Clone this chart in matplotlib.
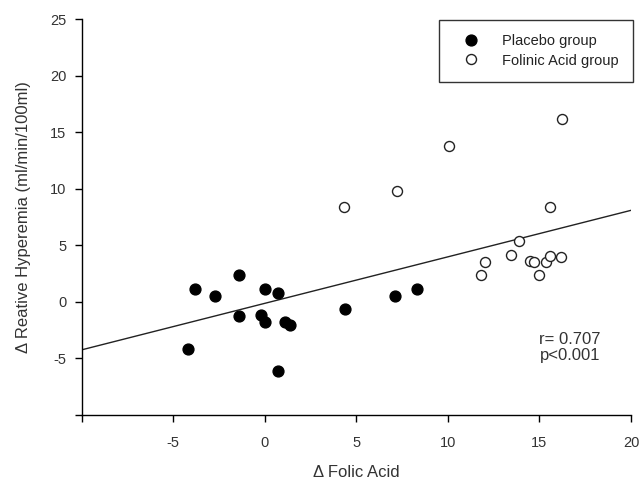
import numpy as np
import matplotlib
matplotlib.use("Agg")
import matplotlib.pyplot as plt

plt.rcParams['font.family'] = ['Liberation Sans', 'DejaVu Sans']

# Placebo group (filled)
placebo_x = [-4.2, -3.8, -2.7, -1.4, -1.4, -0.2, 0.0, 0.0, 0.7, 0.7, 1.1, 1.4, 4.4, 7.1, 8.3]
placebo_y = [-4.2, 1.15, 0.56, 2.4, -1.24, -1.2, 1.15, -1.8, 0.8, -6.07, -1.8, -2.04, -0.62, 0.56, 1.15]

# Folinic acid group (open)
folinic_x = [4.33, 7.23, 10.05, 16.23, 15.56, 13.87, 13.47, 12.05, 11.83, 14.47, 14.69, 15.34, 15.56, 16.16, 14.96]
folinic_y = [8.37, 9.78, 13.82, 16.18, 8.37, 5.42, 4.18, 3.56, 2.39, 3.65, 3.5, 3.56, 4.03, 3.94, 2.39]

# regression line
slope = 0.411
intercept = -0.13
line_x = [-10, 20]

x_ticks = [-10, -5, 0, 5, 10, 15, 20]
x_labels = ['', '-5', '0', '5', '10', '15', '20']
y_ticks = [-10, -5, 0, 5, 10, 15, 20, 25]
y_labels = ['', '-5', '0', '5', '10', '15', '20', '25']

fig = plt.figure(figsize=(6.39, 4.84), dpi=100)
ax = fig.add_axes([0.128, 0.1426, 0.8595, 0.8181])

ax.plot(line_x, [slope * v + intercept for v in line_x], color='#222222', lw=1.0, zorder=1)
ax.plot(placebo_x, placebo_y, 'o', color='black', markersize=7.8, zorder=3,
        label='Placebo group')
ax.plot(folinic_x, folinic_y, 'o', markerfacecolor='white', markeredgecolor='#222222',
        markeredgewidth=1.0, markersize=7.2, zorder=3, label='Folinic Acid group')

ax.set_xlim(-10, 20)
ax.set_ylim(-10, 25)
ax.set_xticks(x_ticks)
ax.set_xticklabels(x_labels)
ax.set_yticks(y_ticks)
ax.set_yticklabels(y_labels)
ax.tick_params(direction='out', length=5, width=1, labelsize=10.5, labelcolor='#333333')
ax.tick_params(axis='x', pad=10)
ax.tick_params(axis='y', pad=6)

ax.spines['top'].set_visible(False)
ax.spines['right'].set_visible(False)
ax.spines['left'].set_linewidth(1.0)
ax.spines['bottom'].set_linewidth(1.0)

ax.set_xlabel('Δ Folic Acid', fontsize=12, color='#333333', labelpad=11)
ax.set_ylabel('Δ Reative Hyperemia (ml/min/100ml)', fontsize=12, color='#333333', labelpad=14)

ax.text(15.0, -4.0, 'r= 0.707\np<0.001', fontsize=12, color='#333333',
        ha='left', va='center', linespacing=1.1)

leg = ax.legend(loc='upper right', bbox_to_anchor=(1.004, 0.998), borderaxespad=0,
                fontsize=10.5, frameon=True, fancybox=False, edgecolor='black',
                handletextpad=0.9, borderpad=1.0, labelspacing=0.35, handlelength=2.4)
leg.get_frame().set_linewidth(1.0)
for t in leg.get_texts():
    t.set_color('#222222')

fig.savefig('out.png', dpi=100)
